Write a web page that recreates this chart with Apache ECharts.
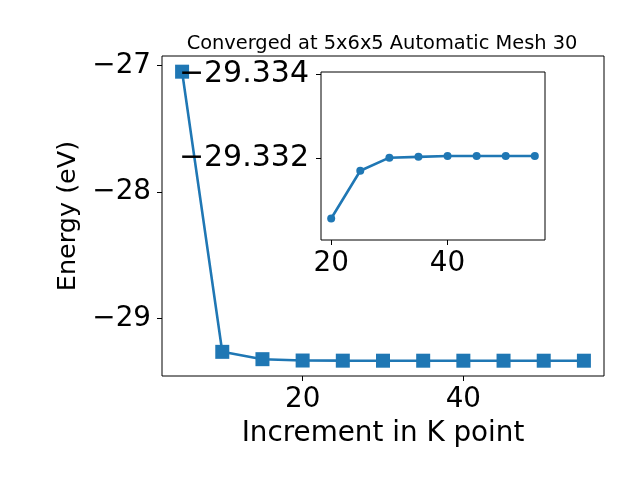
<!DOCTYPE html>
<html>
<head>
<meta charset="utf-8">
<script src="https://cdn.jsdelivr.net/npm/echarts@6/dist/echarts.min.js"></script>
<style>html,body{margin:0;padding:0;background:#fff}#c{width:640px;height:480px}</style>
</head>
<body>
<div id="c"></div>
<script>
const titleText = 'Converged at 5x6x5 Automatic Mesh 30';
const xName = 'Increment in K point';
const yName = 'Energy (eV)';
const kPoints = [5, 10, 15, 20, 25, 30, 35, 40, 45, 50, 55];
const energies = [-27.047, -29.262, -29.32, -29.33058, -29.33171, -29.33202, -29.33204, -29.33206, -29.33206, -29.33206, -29.33206];
const insetK = [20, 25, 30, 35, 40, 45, 50, 55];
const insetE = [-29.33058, -29.33171, -29.33202, -29.33204, -29.33206, -29.33206, -29.33206, -29.33206];
const mainXTicks = [20, 40];
const mainYTicks = [-29, -28, -27];
const insetXTicks = [20, 40];
const insetYTicks = [-29.334, -29.332];

const FONT = 'DejaVu Sans';
const C = '#1f77b4';
const fmt = d => v => (v < 0 ? '\u2212' : '') + Math.abs(v).toFixed(d);

const chart = echarts.init(document.getElementById('c'), null, {renderer: 'canvas'});
const axisCommon = {
  axisLine: {show: false},
  splitLine: {show: false},
  axisTick: {show: true, inside: false, length: 5, lineStyle: {color: '#000', width: 1}},
};
chart.setOption({
  animation: false,
  backgroundColor: '#fff',
  textStyle: {fontFamily: FONT},
  title: {
    text: titleText, left: 377, top: 29, textAlign: 'center',
    textStyle: {fontFamily: FONT, fontSize: 19.4, fontWeight: 'normal', color: '#000'}
  },
  grid: [
    {left: 162, top: 56, width: 442, height: 320, show: true, borderColor: '#000', borderWidth: 1, backgroundColor: '#fff', z: 0},
    {left: 321, top: 72, width: 224, height: 168, show: true, borderColor: '#000', borderWidth: 1, backgroundColor: '#fff', z: 5}
  ],
  xAxis: [
    Object.assign({}, axisCommon, {
      type: 'value', gridIndex: 0, min: 2.5, max: 57.5,
      name: xName, nameLocation: 'middle', nameGap: 44,
      nameTextStyle: {fontFamily: FONT, fontSize: 27.8, color: '#000'},
      axisTick: Object.assign({}, axisCommon.axisTick, {customValues: mainXTicks}),
      axisLabel: {customValues: mainXTicks, margin: 10, fontFamily: FONT, fontSize: 27.8, color: '#000', formatter: fmt(0)}
    }),
    Object.assign({}, axisCommon, {
      type: 'value', gridIndex: 1, min: 18.25, max: 56.75, z: 6,
      axisTick: Object.assign({}, axisCommon.axisTick, {customValues: insetXTicks}),
      axisLabel: {customValues: insetXTicks, margin: 10, fontFamily: FONT, fontSize: 27.8, color: '#000', formatter: fmt(0)}
    })
  ],
  yAxis: [
    Object.assign({}, axisCommon, {
      type: 'value', gridIndex: 0, min: -29.453, max: -26.923,
      name: yName, nameLocation: 'middle', nameGap: 73,
      nameTextStyle: {fontFamily: FONT, fontSize: 25.5, color: '#000'},
      axisTick: Object.assign({}, axisCommon.axisTick, {customValues: mainYTicks}),
      axisLabel: {customValues: mainYTicks, margin: 11, fontFamily: FONT, fontSize: 27.8, color: '#000', formatter: fmt(0)}
    }),
    Object.assign({}, axisCommon, {
      type: 'value', gridIndex: 1, min: -29.33405, max: -29.33007, inverse: true, z: 6,
      axisTick: Object.assign({}, axisCommon.axisTick, {customValues: insetYTicks}),
      axisLabel: {customValues: insetYTicks, margin: 12, fontFamily: FONT, fontSize: 30, color: '#000', formatter: fmt(3)}
    })
  ],
  series: [
    {
      type: 'line', xAxisIndex: 0, yAxisIndex: 0, z: 2,
      data: kPoints.map((k, i) => [k, energies[i]]),
      symbol: 'rect', symbolSize: 14,
      lineStyle: {color: C, width: 2.6},
      itemStyle: {color: C, borderWidth: 0}
    },
    {
      type: 'line', xAxisIndex: 1, yAxisIndex: 1, z: 7,
      data: insetK.map((k, i) => [k, insetE[i]]),
      symbol: 'circle', symbolSize: 8,
      lineStyle: {color: C, width: 2.6},
      itemStyle: {color: C, borderWidth: 0}
    }
  ]
});
</script>
</body>
</html>
